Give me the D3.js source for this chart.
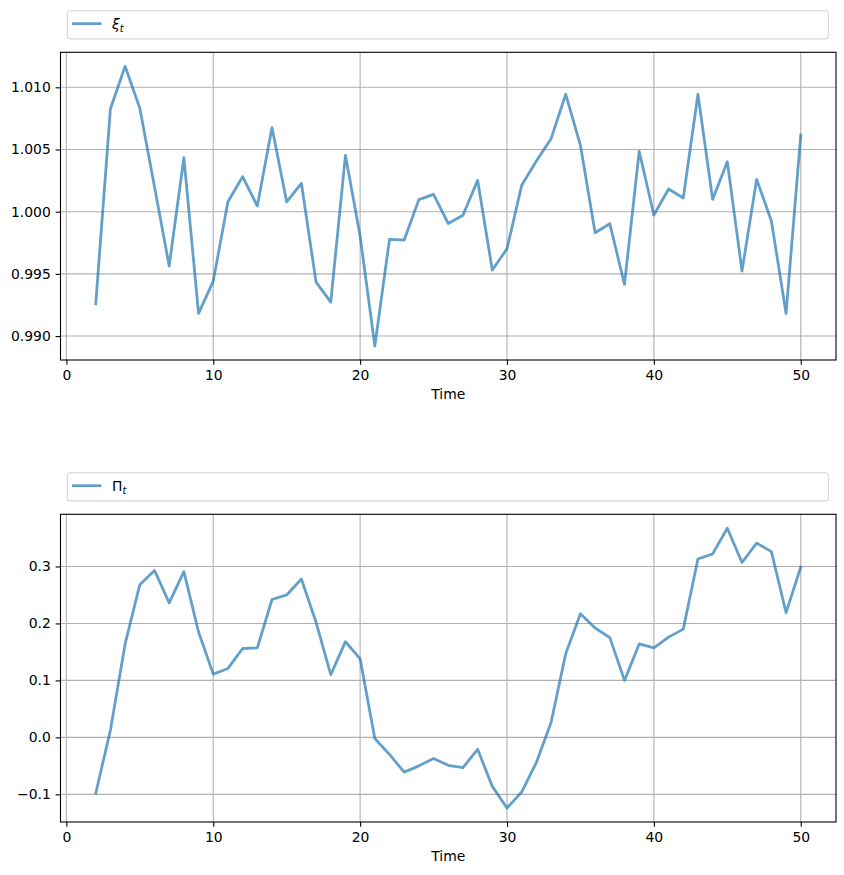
<!DOCTYPE html>
<html>
<head>
<meta charset="utf-8">
<script src="https://cdn.jsdelivr.net/npm/d3@7"></script>
<style>
  body { margin: 0; background: white; }
  text { font-family: "DejaVu Sans", sans-serif; }
</style>
</head>
<body>
<div id="chart"></div>
<script>
// time steps shared by both panels
const time = [2, 3, 4, 5, 6, 7, 8, 9, 10, 11, 12, 13, 14, 15, 16, 17, 18, 19, 20,
  21, 22, 23, 24, 25, 26, 27, 28, 29, 30, 31, 32, 33, 34, 35, 36, 37, 38, 39, 40,
  41, 42, 43, 44, 45, 46, 47, 48, 49, 50];

// xi_t values
const xiValues = [0.99260, 1.00828, 1.01169, 1.00831, 1.00201, 0.99563, 1.00434, 0.99182,
  0.99442, 1.00080, 1.00282, 1.00046, 1.00676, 1.00078, 1.00228, 0.99434, 0.99273,
  1.00453, 0.99804, 0.98920, 0.99777, 0.99772, 1.00097, 1.00139, 0.99905, 0.99971,
  1.00252, 0.99531, 0.99702, 1.00212, 1.00408, 1.00587, 1.00944, 1.00534, 0.99831,
  0.99903, 0.99416, 1.00485, 0.99973, 1.00182, 1.00110, 1.00944, 1.00099, 1.00402,
  0.99523, 1.00260, 0.99925, 0.99182, 1.00617];

// Pi_t values
const piValues = [-0.098, 0.0128, 0.164, 0.268, 0.293, 0.236, 0.291, 0.185, 0.111, 0.121,
  0.156, 0.157, 0.242, 0.250, 0.278, 0.202, 0.110, 0.168, 0.138, -0.002, -0.030, -0.061,
  -0.050, -0.037, -0.049, -0.053, -0.021, -0.086, -0.124, -0.096, -0.044, 0.026, 0.147,
  0.217, 0.192, 0.175, 0.100, 0.164, 0.157, 0.176, 0.190, 0.313, 0.322, 0.367, 0.307,
  0.341, 0.326, 0.219, 0.299];

// tick labels
const xTicks = [0, 10, 20, 30, 40, 50];
const xiTicks = [0.990, 0.995, 1.000, 1.005, 1.010];
const piTicks = [-0.1, 0.0, 0.1, 0.2, 0.3];

const width = 844;
const height = 875;
const lineColor = "#1f77b4";
const fontSize = 13.9;
const tickLen = 4.86;

const svg = d3.select("#chart")
  .append("svg")
  .attr("width", width)
  .attr("height", height);

// matplotlib style 5% margins around the data
function paddedExtent(values) {
  const lo = d3.min(values), hi = d3.max(values);
  const pad = (hi - lo) * 0.05;
  return [lo - pad, hi + pad];
}

function drawPanel(opts) {
  const left = 60.5, right = 836;
  const top = opts.top, bottom = opts.top + 307.7;

  const x = d3.scaleLinear().domain(paddedExtent(time)).range([left, right]);
  const y = d3.scaleLinear().domain(paddedExtent(opts.values)).range([bottom, top]);

  const g = svg.append("g");

  //grid lines
  g.append("g")
    .selectAll("line.vx")
    .data(xTicks)
    .enter().append("line")
    .attr("x1", d => x(d)).attr("x2", d => x(d))
    .attr("y1", top).attr("y2", bottom)
    .attr("stroke", "#b0b0b0").attr("stroke-width", 1.1);

  g.append("g")
    .selectAll("line.hy")
    .data(opts.ticks)
    .enter().append("line")
    .attr("x1", left).attr("x2", right)
    .attr("y1", d => y(d)).attr("y2", d => y(d))
    .attr("stroke", "#b0b0b0").attr("stroke-width", 1.1);

  //the series line
  const line = d3.line()
    .x((d, i) => x(time[i]))
    .y(d => y(d));

  g.append("path")
    .datum(opts.values)
    .attr("d", line)
    .attr("fill", "none")
    .attr("stroke", lineColor)
    .attr("stroke-opacity", 0.7)
    .attr("stroke-width", 2.78)
    .attr("stroke-linejoin", "round")
    .attr("stroke-linecap", "square");

  //axes
  const xAxis = g.append("g")
    .attr("transform", "translate(0," + bottom + ")")
    .call(d3.axisBottom(x).tickValues(xTicks).tickSize(tickLen).tickPadding(4.86).tickFormat(d3.format("d")));

  const yAxis = g.append("g")
    .attr("transform", "translate(" + left + ",0)")
    .call(d3.axisLeft(y).tickValues(opts.ticks).tickSize(tickLen).tickPadding(4.86).tickFormat(d3.format(opts.fmt)));

  [xAxis, yAxis].forEach(function(a) {
    a.select(".domain").remove();
    a.selectAll("line").attr("stroke", "black").attr("stroke-width", 1.1);
    a.selectAll("text")
      .attr("fill", "black")
      .style("font-size", fontSize + "px")
      .style("font-family", "DejaVu Sans, sans-serif");
  });

  //frame
  g.append("rect")
    .attr("x", left).attr("y", top)
    .attr("width", right - left).attr("height", bottom - top)
    .attr("fill", "none")
    .attr("stroke", "black")
    .attr("stroke-width", 1.1);

  //x label
  g.append("text")
    .attr("x", (left + right) / 2)
    .attr("y", bottom + 39)
    .attr("text-anchor", "middle")
    .style("font-size", fontSize + "px")
    .text("Time");

  //legend box spanning the axes width
  const legY = top - 41.6;
  const leg = g.append("g");
  leg.append("rect")
    .attr("x", 67.3).attr("y", legY)
    .attr("width", 828.4 - 67.3).attr("height", 28.2)
    .attr("rx", 3).attr("ry", 3)
    .attr("fill", "white")
    .attr("stroke", "#d6d6d6")
    .attr("stroke-width", 1.1);

  leg.append("line")
    .attr("x1", 72).attr("x2", 101.5)
    .attr("y1", legY + 13).attr("y2", legY + 13)
    .attr("stroke", lineColor)
    .attr("stroke-opacity", 0.7)
    .attr("stroke-width", 2.78);

  const lt = leg.append("text")
    .attr("x", 112)
    .attr("y", legY + 18)
    .style("font-size", fontSize + "px");
  lt.append("tspan")
    .style("font-style", opts.symbolItalic ? "italic" : "normal")
    .text(opts.symbol);
  lt.append("tspan")
    .attr("dy", 3)
    .style("font-size", (fontSize * 0.7) + "px")
    .style("font-style", "italic")
    .text("t");
}

drawPanel({ top: 52.3, values: xiValues, ticks: xiTicks, fmt: ".3f", symbol: "ξ", symbolItalic: true });
drawPanel({ top: 514.3, values: piValues, ticks: piTicks, fmt: ".1f", symbol: "Π", symbolItalic: false });
</script>
</body>
</html>
